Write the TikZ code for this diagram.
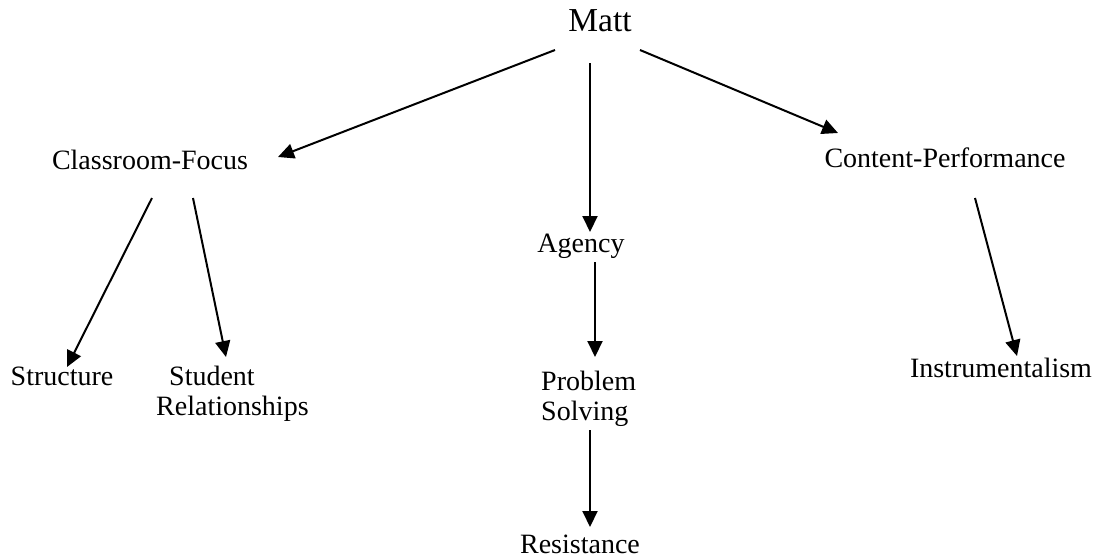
\documentclass[tikz,border=0pt]{standalone}
\usepackage{fontspec}
\setmainfont{Liberation Serif}
\usetikzlibrary{arrows.meta,calc}
\tikzset{
  lbl/.style={inner sep=0pt, font=\fontsize{28}{30}\selectfont},
  toplbl/.style={inner sep=0pt, font=\fontsize{33.5}{36}\selectfont},
  arr/.style={line width=2pt, -{Triangle[length=16pt,width=15pt]}},
}
\begin{document}
\begin{tikzpicture}[x=1pt,y=-1pt]
\useasboundingbox (0,0) rectangle (1097,557);
\node[toplbl, anchor=base] (matt) at (600,31) {Matt};
\node[lbl, anchor=base] (cf) at (150,169) {Classroom-Focus};
\node[lbl, anchor=base] (ag) at (581,252) {Agency};
\node[lbl, anchor=base] (cp) at (945,167) {Content-Performance};
\node[lbl, anchor=base] (st) at (62,385) {Structure};
\node[lbl, anchor=base west, align=left] (sr) at (156,415) {\hspace*{13pt}Student\\Relationships};
\node[lbl, anchor=base west, align=left] (ps) at (541,420) {Problem\\Solving};
\node[lbl, anchor=base] (rs) at (580,553) {Resistance};
\node[lbl, anchor=base] (in) at (1001,377) {Instrumentalism};

\draw[arr] ($(matt.base)+(-45,19)$) -- ($(cf.base)+(128,-12)$);
\draw[arr] ($(matt.base)+(-10,32)$) -- ($(ag.base)+(9,-20)$);
\draw[arr] ($(matt.base)+(40,19)$) -- ($(cp.base)+(-107,-34)$);
\draw[arr] ($(cf.base)+(2,29)$) -- ($(st.base)+(5,-18)$);
\draw[arr] ($(cf.base)+(43,29)$) -- ($(sr.base west)+(70,-58)$);
\draw[arr] ($(ag.base)+(14,10)$) -- ($(ps.base west)+(54,-63)$);
\draw[arr] ($(ps.base west)+(49,10)$) -- ($(rs.base)+(10,-26)$);
\draw[arr] ($(cp.base)+(30,31)$) -- ($(in.base)+(16,-21)$);
\end{tikzpicture}
\end{document}
